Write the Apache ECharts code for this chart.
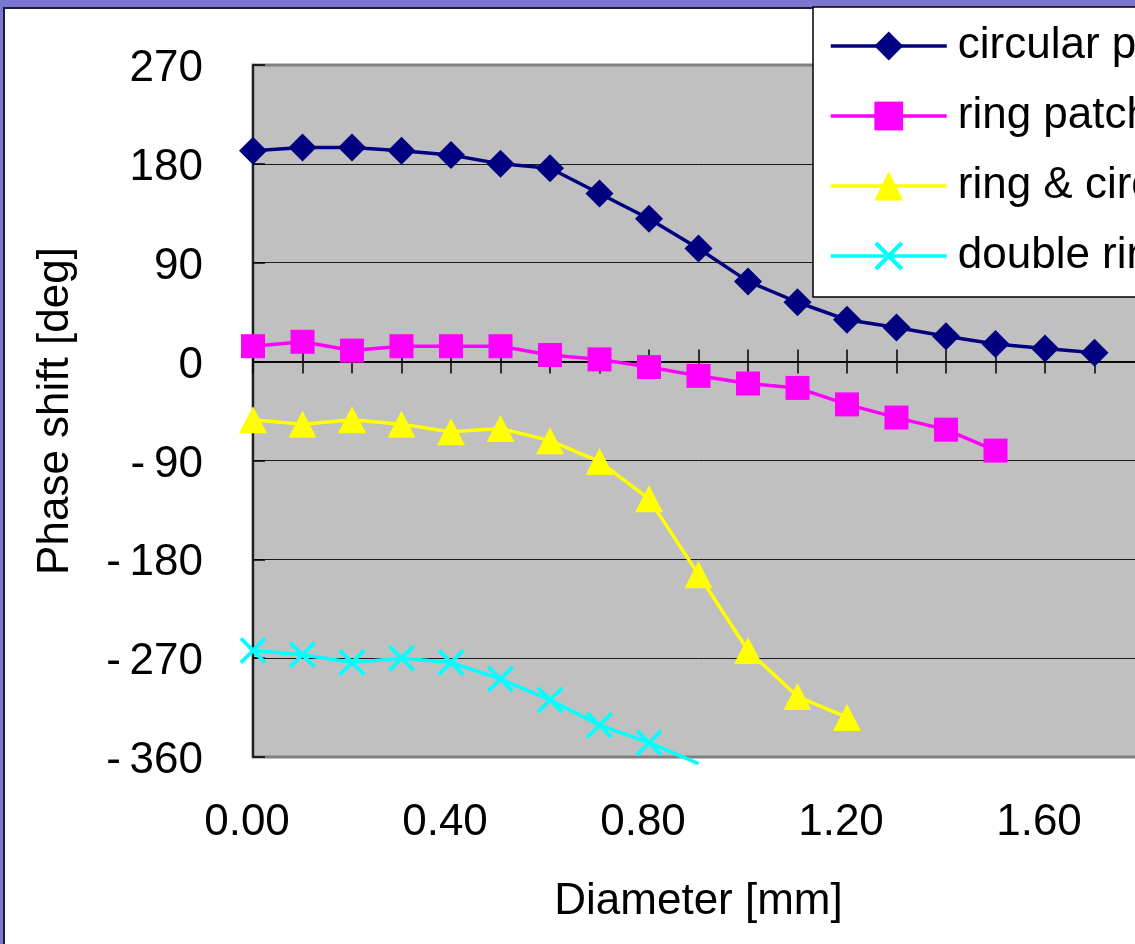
<!DOCTYPE html>
<html>
<head>
<meta charset="utf-8">
<script src="https://cdn.jsdelivr.net/npm/echarts@6/dist/echarts.min.js"></script>
<style>
  html, body { margin: 0; padding: 0; width: 1135px; height: 944px; overflow: hidden; background: #7b76cf; }
  #frame { position: absolute; left: 3px; top: 7px; width: 1300px; height: 1000px; background: #fff;
           border-left: 2px solid #1c1c3a; border-top: 2px solid #1c1c3a; }
  #chart { position: absolute; left: 0; top: 0; width: 1200px; height: 944px; }
</style>
</head>
<body>
<div id="frame"></div>
<div id="chart"></div>
<script>
// 直径 [mm]
const diameter = [0, 0.1, 0.2, 0.3, 0.4, 0.5, 0.6, 0.7, 0.8, 0.9, 1.0, 1.1, 1.2, 1.3, 1.4, 1.5, 1.6, 1.7];
// phase shift [deg] per patch type
const circularPatch = [192, 195, 195, 192, 188, 180, 176, 153, 130, 103, 73, 54, 38, 31, 23, 16, 12, 8];
const ringPatch = [14, 18, 10, 14, 14, 14, 6, 2, -5, -13, -20, -24, -39, -51, -62, -81];
const ringCircular = [-53, -57, -53, -57, -64, -61, -72, -91, -125, -194, -263, -305, -324];
const doubleRing = [-263, -267, -274, -270, -274, -289, -308, -331, -347, -366];
const seriesNames = ['circular patch', 'ring patch', 'ring & circular patch', 'double ring patch'];
const yTicks = [-360, -270, -180, -90, 0, 90, 180, 270];
const xLabelStep = 0.4;

const font = '"Liberation Sans", Arial, sans-serif';
const fs = 44;
const crossPath = 'path://M0,10L10,0L50,40L90,0L100,10L60,50L100,90L90,100L50,60L10,100L0,90L40,50Z';

const pairs = vals => vals.map((v, i) => [diameter[i], v]);

const chart = echarts.init(document.getElementById('chart'));

// x axis drawn through y=0 with crossing ticks (one half up, one half down)
const tickAxis = (inside, yIndex) => ({
    type: 'value', min: 0, max: 1.8, interval: 0.1, position: 'bottom',
    axisLine: { show: true, onZero: true, onZeroAxisIndex: yIndex, lineStyle: { color: '#000', width: 1.5 } },
    axisTick: { show: true, inside: inside, length: 12, lineStyle: { color: '#000', width: 1.5 } },
    axisLabel: { show: false },
    splitLine: { show: false }
});

const doubleRingData = pairs(doubleRing);
// last point lies below the axis range: only the line reaches it
doubleRingData[doubleRingData.length - 1] = { value: doubleRingData[doubleRingData.length - 1], symbol: 'none' };

const option = {
    animation: false,
    textStyle: { fontFamily: font },
    grid: {
        left: 253, top: 65, width: 891, height: 692,
        show: true, backgroundColor: '#c0c0c0', borderColor: '#808080', borderWidth: 3
    },
    legend: {
        orient: 'vertical', left: 813, top: 7,
        padding: [17, 16, 19, 16],
        itemWidth: 116, itemHeight: 36, itemGap: 26,
        backgroundColor: '#fff', borderColor: '#000', borderWidth: 1.5,
        lineStyle: { width: 3.5 },
        textStyle: { fontSize: fs, color: '#000', fontFamily: font, lineHeight: 42, padding: [0, 0, 0, 6] },
        data: seriesNames
    },
    xAxis: [
        {
            type: 'value', min: 0, max: 1.8, interval: xLabelStep, position: 'bottom',
            axisLine: { show: false, onZero: false },
            axisTick: { show: false },
            splitLine: { show: false },
            axisLabel: {
                fontSize: fs, color: '#000', margin: 44, fontFamily: font, showMaxLabel: false,
                padding: [0, 12, 0, 0],
                formatter: v => v.toFixed(2)
            },
            name: 'Diameter [mm]', nameLocation: 'middle', nameGap: 123,
            nameTextStyle: { fontSize: fs, color: '#000', fontFamily: font }
        },
        tickAxis(true, 0),
        tickAxis(false, 1)
    ],
    yAxis: [
        {
            type: 'value', min: yTicks[0], max: yTicks[yTicks.length - 1], interval: 90, position: 'left',
            axisLine: { show: true, onZero: false, lineStyle: { color: '#000', width: 1.5 } },
            axisTick: { show: true, inside: true, length: 12, lineStyle: { color: '#000', width: 1.5 } },
            splitLine: { show: true, showMinLine: false, showMaxLine: false, lineStyle: { color: '#1a1a1a', width: 1 } },
            axisLabel: {
                fontSize: fs, color: '#000', margin: 50, fontFamily: font,
                verticalAlign: 'top', lineHeight: 8,
                formatter: v => v < 0 ? '-\u2009' + Math.abs(v) : String(v)
            },
            name: 'Phase shift [deg]', nameLocation: 'middle', nameRotate: 90, nameGap: 175,
            nameTextStyle: { fontSize: fs, color: '#000', fontFamily: font }
        },
        { type: 'value', min: yTicks[0], max: yTicks[yTicks.length - 1], interval: 90, show: false }
    ],
    series: [
        {
            name: seriesNames[0], type: 'line', data: pairs(circularPatch),
            symbol: 'diamond', symbolSize: 28,
            lineStyle: { color: '#000080', width: 3.5 }, itemStyle: { color: '#000080' }
        },
        {
            name: seriesNames[1], type: 'line', data: pairs(ringPatch),
            symbol: 'rect', symbolSize: 24,
            lineStyle: { color: '#ff00ff', width: 3.5 }, itemStyle: { color: '#ff00ff' }
        },
        {
            name: seriesNames[2], type: 'line', data: pairs(ringCircular),
            symbol: 'triangle', symbolSize: [28, 27],
            lineStyle: { color: '#ffff00', width: 3.5 }, itemStyle: { color: '#ffff00' }
        },
        {
            name: seriesNames[3], type: 'line', data: doubleRingData, clip: false,
            symbol: crossPath, symbolSize: 27,
            lineStyle: { color: '#00ffff', width: 3.5 }, itemStyle: { color: '#00ffff' }
        }
    ]
};
chart.setOption(option);
</script>
</body>
</html>
